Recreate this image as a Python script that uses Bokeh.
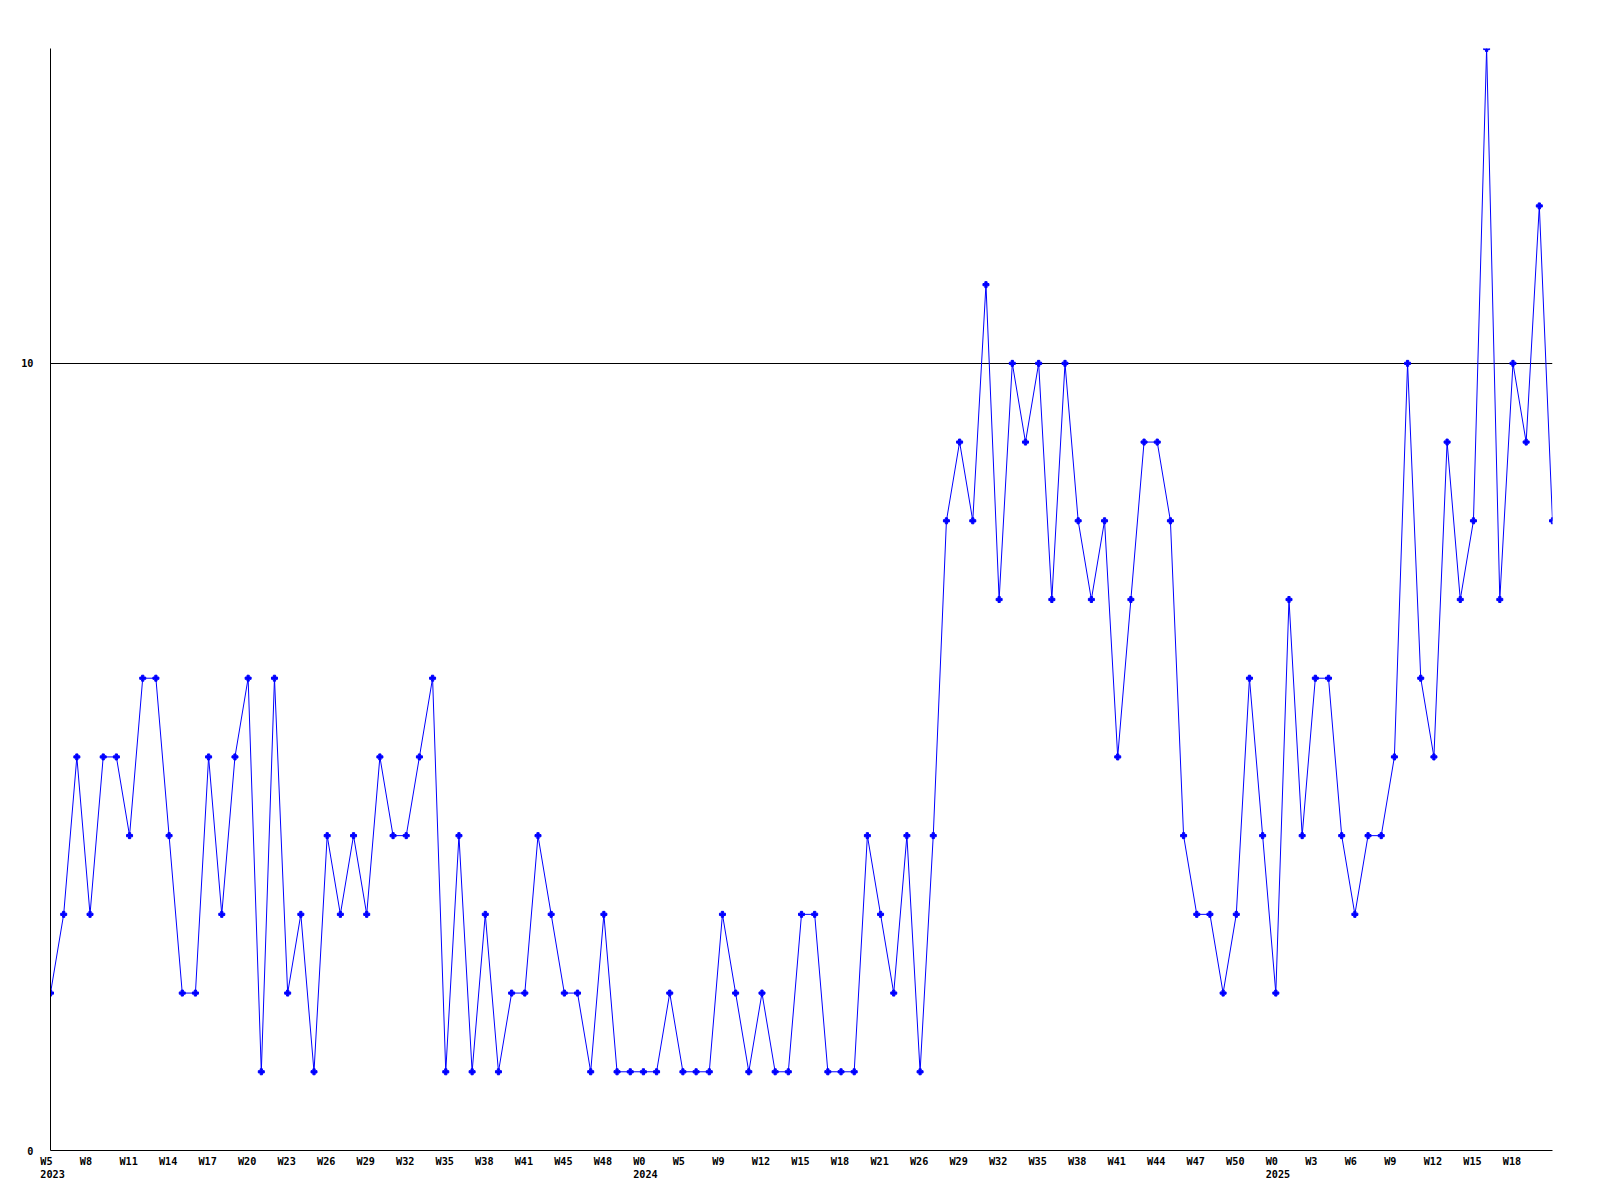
from bokeh.plotting import figure
from bokeh.models import Range1d, FixedTicker, ColumnDataSource
from bokeh.embed import file_html
from bokeh.resources import INLINE

# weekly counts, W5 2023 .. W21 2025 (115 points)
values = [2, 3, 5, 3, 5, 5, 4, 6, 6, 4,
          2, 2, 5, 3, 5, 6, 1, 6, 2, 3,
          1, 4, 3, 4, 3, 5, 4, 4, 5, 6,
          1, 4, 1, 3, 1, 2, 2, 4, 3, 2,
          2, 1, 3, 1, 1, 1, 1, 2, 1, 1,
          1, 3, 2, 1, 2, 1, 1, 3, 3, 1,
          1, 1, 4, 3, 2, 4, 1, 4, 8, 9,
          8, 11, 7, 10, 9, 10, 7, 10, 8, 7,
          8, 5, 7, 9, 9, 8, 4, 3, 3, 2,
          3, 6, 4, 2, 7, 4, 6, 6, 4, 3,
          4, 4, 5, 10, 6, 5, 9, 7, 8, 14,
          7, 10, 9, 12, 8]

# tick labels every third point
tick_labels = ["W5\n2023", "W8", "W11", "W14", "W17", "W20", "W23", "W26", "W29", "W32",
               "W35", "W38", "W41", "W45", "W48", "W0\n2024", "W5", "W9", "W12", "W15",
               "W18", "W21", "W26", "W29", "W32", "W35", "W38", "W41", "W44", "W47",
               "W50", "W0\n2025", "W3", "W6", "W9", "W12", "W15", "W18"]
tick_step = 3
y_ticks = [0, 10]
y_max = 14

FONT = "DejaVu Sans Mono"
FRAME_W = 1502
N = len(values)
px_per_pt = FRAME_W / (N - 1)
CHAR_W = 6.15      # advance of one character at the label size
LEFT_SHIFT = 10.2  # labels start this far (px) left of their point

xs = list(range(N))
src = ColumnDataSource(data=dict(x=xs, y=values))

p = figure(frame_width=FRAME_W, frame_height=1102, output_backend="svg", toolbar_location=None,
           x_range=Range1d(0, N - 1), y_range=Range1d(0, y_max),
           min_border_left=50, min_border_top=48, min_border_right=30, min_border_bottom=30)
p.outline_line_color = None
p.background_fill_color = "white"
p.border_fill_color = "white"

p.line("x", "y", source=src, line_color="#0000ff", line_width=1)
p.scatter("x", "y", source=src, marker="plus", size=6, color="#0000ff")

# axis labels are centred on their tick: place each tick so the (left-aligned
# looking) label starts a little left of its point
tick_pos = []
overrides = {}
for i, lab in enumerate(tick_labels):
    lines = lab.split("\n")
    width = max(len(s) for s in lines)
    lines = [s + "\u00a0" * (width - len(s)) for s in lines]
    center_px = -LEFT_SHIFT + CHAR_W * width / 2.0
    t = i * tick_step + center_px / px_per_pt
    tick_pos.append(t)
    overrides[t] = "\n".join(lines)

xa = p.xaxis[0]
xa.ticker = FixedTicker(ticks=tick_pos)
xa.major_label_overrides = overrides
xa.major_label_standoff = 5
ya = p.yaxis[0]
ya.ticker = FixedTicker(ticks=y_ticks)
ya.major_label_standoff = 17

for ax in (xa, ya):
    ax.major_tick_line_color = None
    ax.minor_tick_line_color = None
    ax.major_tick_out = 0
    ax.major_tick_in = 0
    ax.minor_tick_out = 0
    ax.minor_tick_in = 0
    ax.axis_line_color = "black"
    ax.axis_line_width = 1
    ax.major_label_text_font = FONT
    ax.major_label_text_font_style = "bold"
    ax.major_label_text_font_size = "10.2px"
    ax.major_label_text_color = "black"

p.xgrid.visible = False
p.ygrid.ticker = FixedTicker(ticks=[10])
p.ygrid.grid_line_color = "black"
p.ygrid.grid_line_width = 1

open("out.html", "w").write(file_html(p, INLINE))
